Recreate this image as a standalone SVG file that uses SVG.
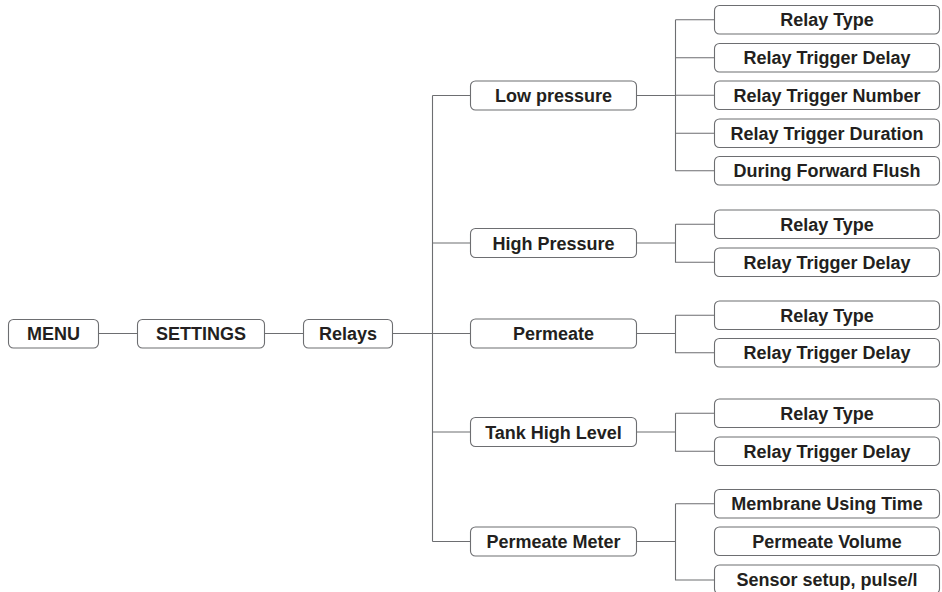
<svg xmlns="http://www.w3.org/2000/svg" width="942" height="592" viewBox="0 0 942 592">
<style>
.b{fill:#fff;stroke:#6d6e71;stroke-width:1.1}
.t{font-family:"Liberation Sans",Arial,sans-serif;font-weight:bold;font-size:18px;fill:#231f20;text-anchor:middle}
.c{fill:none;stroke:#6d6e71;stroke-width:1.1}
</style>
<rect width="942" height="592" fill="#fff"/>
<g id="connectors">
<path class="c" d="M98.5 333.5H137.5M264.5 333.5H303.5M392.5 333.5H432.5M432.5 95.5V541.5M432.5 95.5H470.5M432.5 243H470.5M432.5 333.5H470.5M432.5 432H470.5M432.5 541.5H470.5"/>
<path class="c" d="M636.5 95.5H675.5M675.5 19.75V170.75M675.5 19.75H714.5M675.5 57.75H714.5M675.5 95.25H714.5M675.5 133.25H714.5M675.5 170.75H714.5"/>
<path class="c" d="M636.5 243H675.5M675.5 224.25V262.25H714.5M675.5 224.25H714.5"/>
<path class="c" d="M636.5 333.5H675.5M675.5 315.25V352.75H714.5M675.5 315.25H714.5"/>
<path class="c" d="M636.5 432H675.5M675.5 413.25V451.25H714.5M675.5 413.25H714.5"/>
<path class="c" d="M636.5 541.5H675.5M675.5 503.75V580H714.5M675.5 503.75H714.5"/>
</g>
<g id="menu"><rect class="b" x="8.5" y="319.5" width="90" height="28.5" rx="5"/><text class="t" x="53.5" y="340.2">MENU</text></g>
<g id="settings"><rect class="b" x="137.5" y="319.5" width="127" height="28.5" rx="5"/><text class="t" x="201" y="340.2">SETTINGS</text></g>
<g id="relays"><rect class="b" x="303.5" y="319.5" width="89" height="28.5" rx="5"/><text class="t" x="348" y="340.2">Relays</text></g>

<g id="low-pressure"><rect class="b" x="470.5" y="81" width="166" height="29" rx="5"/><text class="t" x="553.5" y="102">Low pressure</text></g>
<g id="high-pressure"><rect class="b" x="470.5" y="228.5" width="166" height="29" rx="5"/><text class="t" x="553.5" y="249.5">High Pressure</text></g>
<g id="permeate"><rect class="b" x="470.5" y="319" width="166" height="29" rx="5"/><text class="t" x="553.5" y="340">Permeate</text></g>
<g id="tank-high-level"><rect class="b" x="470.5" y="417.5" width="166" height="29" rx="5"/><text class="t" x="553.5" y="438.5">Tank High Level</text></g>
<g id="permeate-meter"><rect class="b" x="470.5" y="527" width="166" height="29" rx="5"/><text class="t" x="553.5" y="548">Permeate Meter</text></g>

<g id="lp-relay-type"><rect class="b" x="714.5" y="5.5" width="225" height="28.5" rx="5"/><text class="t" x="827" y="26.2">Relay Type</text></g>
<g id="lp-relay-trigger-delay"><rect class="b" x="714.5" y="43.5" width="225" height="28.5" rx="5"/><text class="t" x="827" y="64.2">Relay Trigger Delay</text></g>
<g id="lp-relay-trigger-number"><rect class="b" x="714.5" y="81" width="225" height="28.5" rx="5"/><text class="t" x="827" y="101.7">Relay Trigger Number</text></g>
<g id="lp-relay-trigger-duration"><rect class="b" x="714.5" y="119" width="225" height="28.5" rx="5"/><text class="t" x="827" y="139.7">Relay Trigger Duration</text></g>
<g id="lp-during-forward-flush"><rect class="b" x="714.5" y="156.5" width="225" height="28.5" rx="5"/><text class="t" x="827" y="177.2">During Forward Flush</text></g>

<g id="hp-relay-type"><rect class="b" x="714.5" y="210" width="225" height="28.5" rx="5"/><text class="t" x="827" y="230.7">Relay Type</text></g>
<g id="hp-relay-trigger-delay"><rect class="b" x="714.5" y="248" width="225" height="28.5" rx="5"/><text class="t" x="827" y="268.7">Relay Trigger Delay</text></g>

<g id="pm-relay-type"><rect class="b" x="714.5" y="301" width="225" height="28.5" rx="5"/><text class="t" x="827" y="321.7">Relay Type</text></g>
<g id="pm-relay-trigger-delay"><rect class="b" x="714.5" y="338.5" width="225" height="28.5" rx="5"/><text class="t" x="827" y="359.2">Relay Trigger Delay</text></g>

<g id="th-relay-type"><rect class="b" x="714.5" y="399" width="225" height="28.5" rx="5"/><text class="t" x="827" y="419.7">Relay Type</text></g>
<g id="th-relay-trigger-delay"><rect class="b" x="714.5" y="437" width="225" height="28.5" rx="5"/><text class="t" x="827" y="457.7">Relay Trigger Delay</text></g>

<g id="membrane-using-time"><rect class="b" x="714.5" y="489.5" width="225" height="28.5" rx="5"/><text class="t" x="827" y="510.2">Membrane Using Time</text></g>
<g id="permeate-volume"><rect class="b" x="714.5" y="527" width="225" height="28.5" rx="5"/><text class="t" x="827" y="547.7">Permeate Volume</text></g>
<g id="sensor-setup"><rect class="b" x="714.5" y="565" width="225" height="29" rx="5"/><text class="t" x="827" y="586">Sensor setup, pulse/l</text></g>
</svg>
